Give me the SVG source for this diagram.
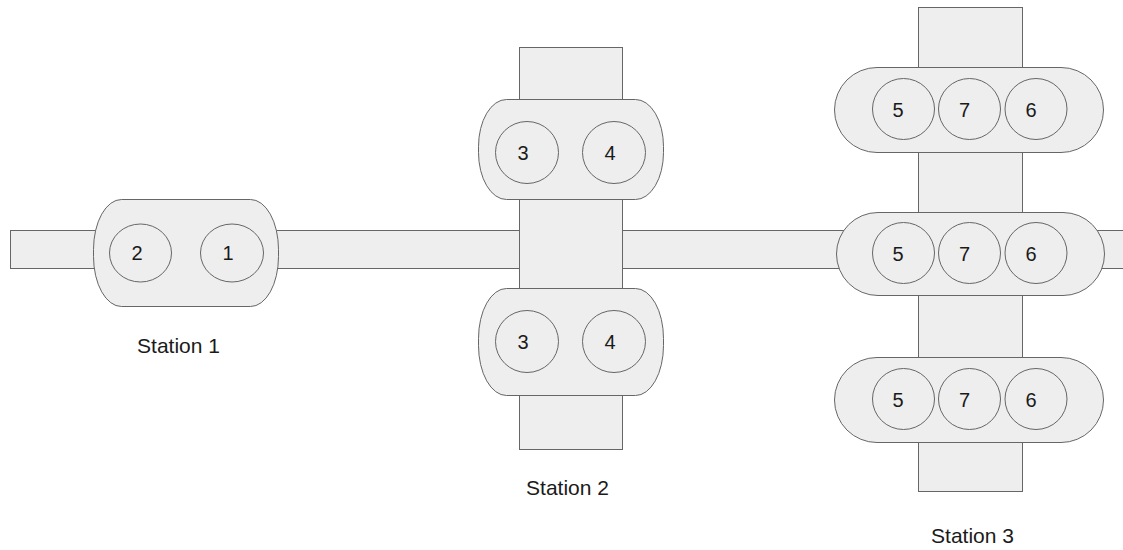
<svg xmlns="http://www.w3.org/2000/svg" width="1123" height="550" viewBox="0 0 1123 550">
<style>
.belt{fill:#eeeeee;stroke:#666666;stroke-width:1}
.st{fill:#eeeeee;stroke:#666666;stroke-width:1}
.c{fill:#eeeeee;stroke:#666666;stroke-width:1}
.n{font-family:"Liberation Sans",Arial,sans-serif;font-size:20px;fill:#1a1a1a;text-anchor:middle}
.lbl{font-family:"Liberation Sans",Arial,sans-serif;font-size:21px;fill:#1a1a1a;text-anchor:middle}
</style>
<rect width="1123" height="550" fill="#ffffff"/>
<g id="conveyors">
<rect class="belt" x="10.5" y="230.5" width="1125" height="38"/>
<rect class="belt" x="519.5" y="47.5" width="103" height="402"/>
<rect class="belt" x="918.5" y="7.5" width="104" height="484"/>
</g>
<g id="station1">
<rect class="st" x="93.5" y="199.5" width="185" height="107" rx="28" ry="50"/>
<ellipse class="c" cx="140.5" cy="253" rx="31" ry="29"/>
<ellipse class="c" cx="232" cy="253" rx="31.5" ry="29"/>
<text class="n" x="137" y="260">2</text>
<text class="n" x="228" y="260">1</text>
<text class="lbl" x="178.5" y="353">Station 1</text>
</g>
<g id="station2-top">
<rect class="st" x="478.5" y="99.5" width="185" height="100" rx="28" ry="47"/>
<ellipse class="c" cx="527" cy="152.5" rx="31.5" ry="31"/>
<ellipse class="c" cx="614" cy="152.5" rx="31.5" ry="31"/>
<text class="n" x="523" y="160">3</text>
<text class="n" x="610" y="160">4</text>
</g>
<g id="station2-bottom">
<rect class="st" x="478.5" y="288.5" width="185" height="107" rx="28" ry="50"/>
<ellipse class="c" cx="527" cy="341.5" rx="31.5" ry="31"/>
<ellipse class="c" cx="614" cy="341.5" rx="31.5" ry="31"/>
<text class="n" x="523" y="349">3</text>
<text class="n" x="610" y="349">4</text>
<text class="lbl" x="567.5" y="495">Station 2</text>
</g>
<g id="station3-top">
<rect class="st" x="834.5" y="67.5" width="269" height="85" rx="42.5" ry="42.5"/>
<ellipse class="c" cx="903.5" cy="109" rx="31" ry="30.5"/>
<ellipse class="c" cx="969.5" cy="109" rx="31" ry="30.5"/>
<ellipse class="c" cx="1036" cy="109" rx="31" ry="30.5"/>
<text class="n" x="898" y="117">5</text>
<text class="n" x="964.5" y="117">7</text>
<text class="n" x="1031" y="117">6</text>
</g>
<g id="station3-middle">
<rect class="st" x="836.5" y="212.5" width="268" height="83" rx="41.5" ry="41.5"/>
<ellipse class="c" cx="903.5" cy="253" rx="31" ry="30.5"/>
<ellipse class="c" cx="969.5" cy="253" rx="31" ry="30.5"/>
<ellipse class="c" cx="1036" cy="253" rx="31" ry="30.5"/>
<text class="n" x="898" y="261">5</text>
<text class="n" x="964.5" y="261">7</text>
<text class="n" x="1031" y="261">6</text>
</g>
<g id="station3-bottom">
<rect class="st" x="834.5" y="357.5" width="269" height="85" rx="42.5" ry="42.5"/>
<ellipse class="c" cx="903.5" cy="399" rx="31" ry="30.5"/>
<ellipse class="c" cx="969.5" cy="399" rx="31" ry="30.5"/>
<ellipse class="c" cx="1036" cy="399" rx="31" ry="30.5"/>
<text class="n" x="898" y="407">5</text>
<text class="n" x="964.5" y="407">7</text>
<text class="n" x="1031" y="407">6</text>
<text class="lbl" x="972.5" y="543">Station 3</text>
</g>
</svg>
